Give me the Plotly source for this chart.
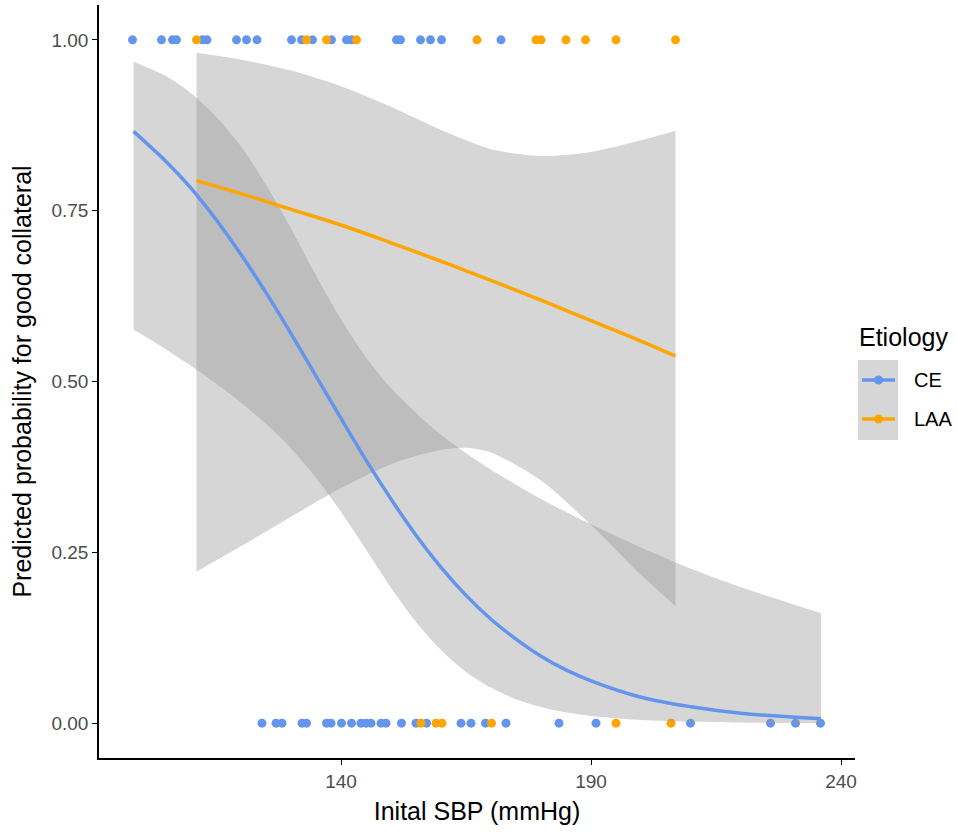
import plotly.graph_objects as go

# observed points (outcome 1 = good collateral, 0 = poor)
ce_good_sbp = [98.3, 104.1, 106.3, 107.1, 112.3, 113.2, 119.1, 121.1, 123.2, 130.1,
               132.1, 134.3, 138.1, 141.1, 142.1, 151.1, 151.9, 155.9, 157.9, 160.1, 172.0]
laa_good_sbp = [111.1, 133.1, 137.1, 143.1, 167.2, 179.0, 180.0, 185.0, 188.9, 195.0, 206.9]
ce_poor_sbp = [124.2, 127.0, 128.2, 132.2, 133.1, 137.1, 138.0, 140.1, 142.1, 144.0, 145.0,
               146.0, 148.0, 149.0, 152.1, 155.0, 157.1, 164.0, 166.0, 168.9, 173.0, 183.6,
               191.0, 209.9, 225.9, 230.9, 235.9]
laa_poor_sbp = [156.0, 159.0, 160.2, 170.1, 195.0, 206.0]

# fitted logistic curves with 95% bands
ce_x = [98.5, 105, 110, 115, 120, 125, 130, 135, 140, 145, 150, 155, 160, 165, 170,
        175, 180, 185, 190, 200, 210, 220, 236]
ce_fit = [0.866, 0.822, 0.783, 0.737, 0.686, 0.630, 0.570, 0.508, 0.446, 0.385, 0.328,
          0.275, 0.228, 0.187, 0.152, 0.123, 0.098, 0.078, 0.062, 0.038, 0.024, 0.0145, 0.0066]
ce_upper = [0.968, 0.947, 0.922, 0.888, 0.844, 0.788, 0.724, 0.655, 0.591, 0.535, 0.490,
            0.454, 0.422, 0.395, 0.371, 0.349, 0.328, 0.309, 0.291, 0.257, 0.226, 0.199, 0.161]
ce_lower = [0.576, 0.547, 0.523, 0.497, 0.469, 0.438, 0.402, 0.359, 0.309, 0.254, 0.198,
            0.148, 0.107, 0.075, 0.052, 0.035, 0.0237, 0.0158, 0.0105, 0.0046, 0.002, 0.0009, 0.0002]

laa_x = [111.1, 120, 130, 140, 150, 160, 165, 170, 180, 190, 200, 206.9]
laa_fit = [0.794, 0.775, 0.752, 0.729, 0.703, 0.676, 0.662, 0.648, 0.619, 0.589, 0.559, 0.537]
laa_upper = [0.981, 0.971, 0.955, 0.932, 0.902, 0.868, 0.853, 0.840, 0.830, 0.836, 0.853, 0.867]
laa_lower = [0.222, 0.259, 0.302, 0.344, 0.379, 0.400, 0.403, 0.396, 0.355, 0.290, 0.217, 0.171]

groups = ["CE", "LAA"]

CE_COL = "#6495ED"
LAA_COL = "#FFA500"
BAND = "rgba(153,153,153,0.4)"
FONT = "Liberation Sans, Arial, sans-serif"

fig = go.Figure()

# points
fig.add_trace(go.Scatter(x=ce_good_sbp + ce_poor_sbp,
                         y=[1] * len(ce_good_sbp) + [0] * len(ce_poor_sbp),
                         mode="markers", marker=dict(color=CE_COL, size=9),
                         showlegend=False, hoverinfo="x"))
fig.add_trace(go.Scatter(x=laa_good_sbp + laa_poor_sbp,
                         y=[1] * len(laa_good_sbp) + [0] * len(laa_poor_sbp),
                         mode="markers", marker=dict(color=LAA_COL, size=9),
                         showlegend=False, hoverinfo="x"))

# confidence bands: lower edge, then upper edge filled down to it
for xs, up, lo in [(ce_x, ce_upper, ce_lower), (laa_x, laa_upper, laa_lower)]:
    fig.add_trace(go.Scatter(x=xs, y=lo, mode="lines",
                             line=dict(width=0, shape="spline", smoothing=0.8),
                             showlegend=False, hoverinfo="skip"))
    fig.add_trace(go.Scatter(x=xs, y=up, mode="lines", fill="tonexty", fillcolor=BAND,
                             line=dict(width=0, shape="spline", smoothing=0.8),
                             showlegend=False, hoverinfo="skip"))

# fitted lines
fig.add_trace(go.Scatter(x=ce_x, y=ce_fit, mode="lines",
                         line=dict(color=CE_COL, width=3.5, shape="spline"), showlegend=False))
fig.add_trace(go.Scatter(x=laa_x, y=laa_fit, mode="lines",
                         line=dict(color=LAA_COL, width=3.5, shape="spline"), showlegend=False))

# legend drawn by hand (ggplot style: grey key background)
fig.add_shape(type="rect", xref="paper", yref="paper", x0=1.004, x1=1.057, y0=0.4223, y1=0.5286,
              fillcolor="#d6d6d6", line=dict(width=0))
for name, col, ky in [(groups[0], CE_COL, 0.502), (groups[1], LAA_COL, 0.4502)]:
    fig.add_shape(type="line", xref="paper", yref="paper", x0=1.0093, x1=1.0529, y0=ky, y1=ky,
                  line=dict(color=col, width=3.5))
    fig.add_shape(type="circle", xref="paper", yref="paper",
                  x0=1.0311 - 0.006, x1=1.0311 + 0.006, y0=ky - 0.006, y1=ky + 0.006,
                  fillcolor=col, line=dict(width=0))
    fig.add_annotation(text=name, xref="paper", yref="paper", x=1.0754, y=ky,
                       xanchor="left", yanchor="middle", showarrow=False,
                       font=dict(size=20, color="black"))
fig.add_annotation(text="Etiology", xref="paper", yref="paper", x=1.0026, y=0.5591,
                   xanchor="left", yanchor="middle", showarrow=False,
                   font=dict(size=25, color="black"))

fig.update_layout(
    width=957, height=835,
    margin=dict(l=99, r=102, t=5, b=77),
    plot_bgcolor="white", paper_bgcolor="white",
    font=dict(family=FONT, color="black"),
    showlegend=False,
    xaxis=dict(range=[91.6, 242.8], tickvals=[140, 190, 240],
               showline=True, linecolor="black", linewidth=1.5, showgrid=False, zeroline=False,
               ticks="outside", ticklen=5, tickcolor="black",
               tickfont=dict(size=19, color="#4d4d4d"),
               title=dict(text="Inital SBP (mmHg)", font=dict(size=25, color="black"), standoff=12)),
    yaxis=dict(range=[-0.051, 1.051], tickvals=[0, 0.25, 0.5, 0.75, 1], tickformat=".2f",
               showline=True, linecolor="black", linewidth=1.5, showgrid=False, zeroline=False,
               ticks="outside", ticklen=5, tickcolor="black",
               tickfont=dict(size=19, color="#4d4d4d"),
               title=dict(text="Predicted probability for good collateral",
                          font=dict(size=25, color="black"), standoff=13)),
)

fig.write_html("out.html", config={"displayModeBar": False},
               post_script="document.body.style.margin='0';")
